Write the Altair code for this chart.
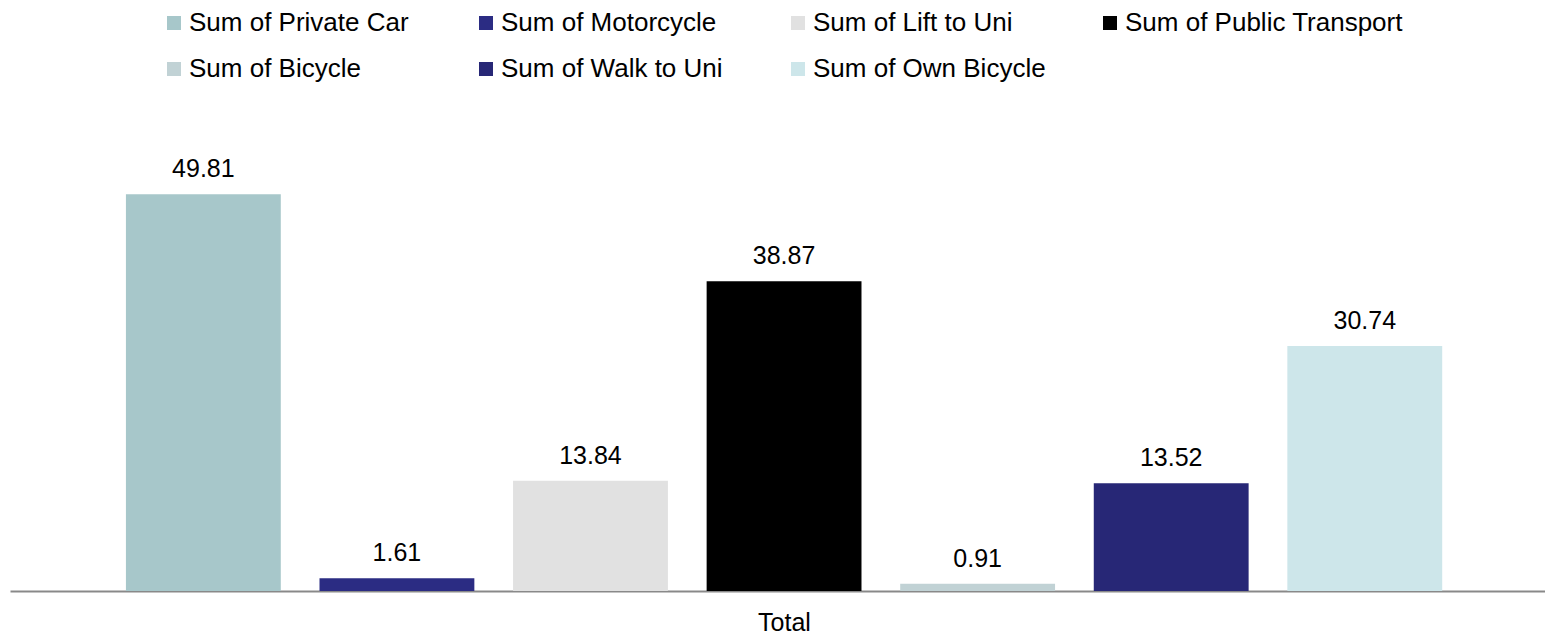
import altair as alt
import pandas as pd

series = ["Sum of Private Car", "Sum of Motorcycle", "Sum of Lift to Uni",
          "Sum of Public Transport", "Sum of Bicycle", "Sum of Walk to Uni",
          "Sum of Own Bicycle"]
values = [49.81, 1.61, 13.84, 38.87, 0.91, 13.52, 30.74]
colors = ["#A7C7CA", "#2B2C83", "#E1E1E1", "#000000", "#C1D2D5", "#272776", "#CDE6EA"]
category = "Total"

df = pd.DataFrame({
    "cat": [category] * len(series),
    "series": series,
    "value": values,
    "label": [f"{v:.2f}" for v in values],
})

FONT = "Liberation Sans"

base = alt.Chart(df).encode(
    x=alt.X("cat:N", title=None,
            scale=alt.Scale(paddingInner=0, paddingOuter=0),
            axis=alt.Axis(labelAngle=0, ticks=False, domainColor="#898989",
                          domainWidth=2, labelFont=FONT, labelFontSize=25,
                          labelColor="#000000", labelBaseline="alphabetic",
                          labelPadding=39, labelOffset=7, grid=False)),
    xOffset=alt.XOffset("series:N", sort=series,
                        scale=alt.Scale(domain=series, paddingInner=0.2,
                                        paddingOuter=0.565, align=0.53)),
    y=alt.Y("value:Q", axis=None, scale=alt.Scale(domain=[0, 60])),
)

bars = base.mark_bar().encode(
    color=alt.Color("series:N", sort=series,
                    scale=alt.Scale(domain=series, range=colors),
                    legend=alt.Legend(title=None, orient="none", legendX=151, legendY=-103,
                                      columns=4, direction="horizontal", gridAlign="all",
                                      columnPadding=6, rowPadding=20,
                                      symbolType="square", symbolSize=196,
                                      symbolStrokeWidth=0, symbolOpacity=1,
                                      labelFont=FONT, labelFontSize=26, labelColor="#000000",
                                      labelOffset=2, labelLimit=500, padding=0))
)

text = base.mark_text(dy=-17, baseline="alphabetic", fontSize=25, font=FONT,
                      color="#000000").encode(text="label:N")

chart = (bars + text).properties(
    width=1535, height=478,
    padding={"left": 2, "top": 2, "right": 0, "bottom": 0},
).configure(background="#ffffff").configure_view(strokeWidth=0, stroke="transparent")

chart.save("out.html", embed_options={"renderer": "svg", "actions": False})
